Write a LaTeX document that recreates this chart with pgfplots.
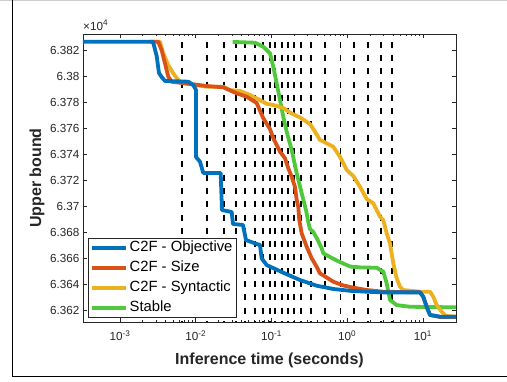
\documentclass[border=0pt]{standalone}
\usepackage{fontspec}
\setmainfont{Liberation Sans}
\usepackage{pgfplots}
\pgfplotsset{compat=1.18}
\definecolor{mblue}{rgb}{0,0.447,0.741}
\definecolor{morange}{rgb}{0.85,0.325,0.098}
\definecolor{myellow}{rgb}{0.929,0.694,0.125}
\definecolor{mgreen}{RGB}{80,200,60}
\definecolor{axgray}{rgb}{0.15,0.15,0.15}
\begin{document}
\begin{tikzpicture}
\useasboundingbox (0pt,0pt) rectangle (507pt,381pt);
\fill[white] (0pt,0pt) rectangle (507pt,381pt);
\draw[black!20, line width=1pt] (0pt,380.5pt) -- (507pt,380.5pt);
\draw[black, line width=1pt] (12.5pt,381pt) -- (12.5pt,5pt) -- (507pt,5pt);
\begin{axis}[
  at={(83pt,59pt)}, anchor=south west,
  width=373pt, height=288pt, scale only axis,
  xmode=log,
  xmin=3.25e-4, xmax=27.27,
  ymin=63610.8, ymax=63832.3,
  scaled y ticks=false,
  ytick={63620,63640,...,63820},
  yticklabels={6.362,6.364,6.366,6.368,6.37,6.372,6.374,6.376,6.378,6.38,6.382},
  xtick={1e-3,1e-2,1e-1,1,10},
  xticklabels={10\textsuperscript{-3},10\textsuperscript{-2},10\textsuperscript{-1},10\textsuperscript{0},10\textsuperscript{1}},
  tick label style={font=\fontsize{11.7}{14}\selectfont, text=axgray},
  xticklabel style={yshift=-5pt},
  major tick length=4pt, minor tick length=2pt,
  tick style={axgray, line width=0.6pt},
  axis line style={axgray, line width=0.8pt},
  xlabel={\bfseries Inference time (seconds)},
  ylabel={\bfseries Upper bound},
  label style={font=\fontsize{16}{19}\selectfont, text=axgray},
  xlabel style={at={(axis description cs:0.5,-0.132)}, anchor=center},
  ylabel style={at={(axis description cs:-0.1233,0.5)}, anchor=center},
  reverse legend,
  legend cell align=left,
  legend style={at={(axis description cs:0.0134,0.0149)}, anchor=south west,
    font=\fontsize{14.8}{17}\selectfont, draw=axgray, line width=0.8pt, fill=white,
    inner xsep=2pt, inner ysep=1pt, row sep=3pt,
    nodes={inner sep=1.5pt, text height=11pt, text depth=3pt}},
  legend image code/.code={\draw[#1, line width=3.8pt] (0pt,0pt) -- (34pt,0pt);},
  clip=true,
  after end axis/.code={
    \node[anchor=south west, inner sep=0pt, font=\fontsize{11.7}{14}\selectfont, text=axgray] at (rel axis cs:0,1.012) {×10\textsuperscript{4}};
  },
]
% vertical dashed lines
\pgfplotsinvokeforeach{0.006584,0.014079,0.023598,0.033994,0.044690,0.060548,0.077212,0.095544,0.11121,0.13759,0.16511,0.19815,0.24518,0.33221,0.50835,0.81447,1.2278,1.8785,2.7898,3.8975}{
  \addplot[black, line width=1.5pt, dash pattern=on 6pt off 7.3pt, forget plot] coordinates {(#1,63826.4) (#1,63610.8)};
}
% Stable
\addplot[mgreen, line width=3.8pt, line join=round] coordinates {
(0.030742,63826.2) (0.060548,63825.6) (0.077924,63822.5) (0.095544,63817.5) (0.10564,63807.2) (0.11711,63794.4) (0.12951,63781.5) (0.14315,63768.7) (0.15874,63757.2) (0.18478,63743.1) (0.21516,63725.2) (0.25044,63709.8) (0.28530,63696.9) (0.30605,63687.7) (0.32233,63682.3) (0.35628,63680.0) (0.39515,63675.4) (0.46003,63667.5) (0.48296,63663.6) (0.59184,63660.8) (0.80209,63656.9) (1.0872,63653.5) (1.4732,63652.8) (2.4476,63652.5) (2.9919,63649.5) (3.3175,63640.5) (3.6673,63627.7) (4.4957,63623.8) (6.7355,63622.5) (27.27,63622.1)
};
\addlegendentry{Stable}
% Syntactic
\addplot[myellow, line width=3.8pt, line join=round] coordinates {
(0.002489,63826.4) (0.003373,63826.4) (0.003718,63817.5) (0.004341,63808.5) (0.005039,63802.1) (0.005884,63796.9) (0.006849,63794.4) (0.013951,63791.8) (0.023098,63791.8) (0.028318,63789.2) (0.038384,63788.5) (0.052017,63785.4) (0.063769,63782.8) (0.086404,63778.6) (0.10564,63777.7) (0.14315,63775.4) (0.17539,63771.9) (0.23771,63768.1) (0.32233,63763.1) (0.37532,63757.2) (0.43686,63750.8) (0.53556,63748.2) (0.65414,63745.6) (0.80209,63737.9) (0.98333,63727.7) (1.2017,63723.1) (1.4732,63714.8) (1.8063,63705.4) (2.2077,63702.1) (2.7058,63691.8) (2.9919,63689.2) (3.3175,63679.0) (3.6673,63671.3) (4.0551,63655.9) (4.4957,63644.4) (4.9704,63637.9) (5.4954,63635.4) (9.1282,63634.1) (12.373,63634.1) (13.677,63630.2) (15.168,63623.8) (17.659,63618.7) (20.127,63615.4) (27.27,63615.0)
};
\addlegendentry{C2F - Syntactic}
% Size
\addplot[morange, line width=3.8pt, line join=round] coordinates {
(0.002489,63826.4) (0.003193,63826.4) (0.003541,63820.0) (0.003927,63809.8) (0.004341,63799.5) (0.004814,63795.6) (0.009284,63793.6) (0.013951,63792.3) (0.023098,63791.3) (0.034625,63786.7) (0.047054,63784.1) (0.063769,63779.2) (0.077924,63767.5) (0.095544,63759.2) (0.10564,63752.1) (0.12951,63741.8) (0.15078,63736.7) (0.16665,63729.0) (0.18478,63722.5) (0.20426,63714.8) (0.21516,63704.6) (0.22588,63699.5) (0.23281,63689.2) (0.25044,63679.0) (0.29148,63668.7) (0.33929,63659.8) (0.39515,63653.3) (0.43686,63648.2) (0.53556,63645.0) (0.65414,63641.8) (0.88679,63638.9) (1.2017,63637.2) (1.8063,63635.4) (2.9919,63634.1) (9.1282,63633.6) (10.092,63630.2) (11.191,63622.5) (12.373,63616.2) (16.769,63614.7) (27.27,63614.7)
};
\addlegendentry{C2F - Size}
% Objective
\addplot[mblue, line width=3.8pt, line join=round] coordinates {
(3.25e-4,63826.4) (0.002727,63826.4) (0.003051,63815.4) (0.003272,63802.3) (0.003553,63799.2) (0.003927,63796.2) (0.007974,63795.6) (0.009284,63793.1) (0.010077,63789.2) (0.010077,63737.7) (0.011378,63734.1) (0.012583,63725.4) (0.021353,63725.4) (0.022208,63696.9) (0.029823,63695.4) (0.031019,63686.2) (0.042051,63685.4) (0.046062,63673.8) (0.060548,63671.3) (0.070485,63670.0) (0.074216,63659.8) (0.086404,63654.6) (0.14315,63648.7) (0.23771,63643.1) (0.39515,63638.7) (0.65414,63636.2) (1.0872,63634.8) (1.8063,63634.1) (2.9919,63633.6) (9.1282,63633.6) (10.092,63630.2) (11.191,63622.5) (12.373,63616.2) (16.769,63614.9) (27.27,63614.9)
};
\addlegendentry{C2F - Objective}
\end{axis}
\end{tikzpicture}
\end{document}
